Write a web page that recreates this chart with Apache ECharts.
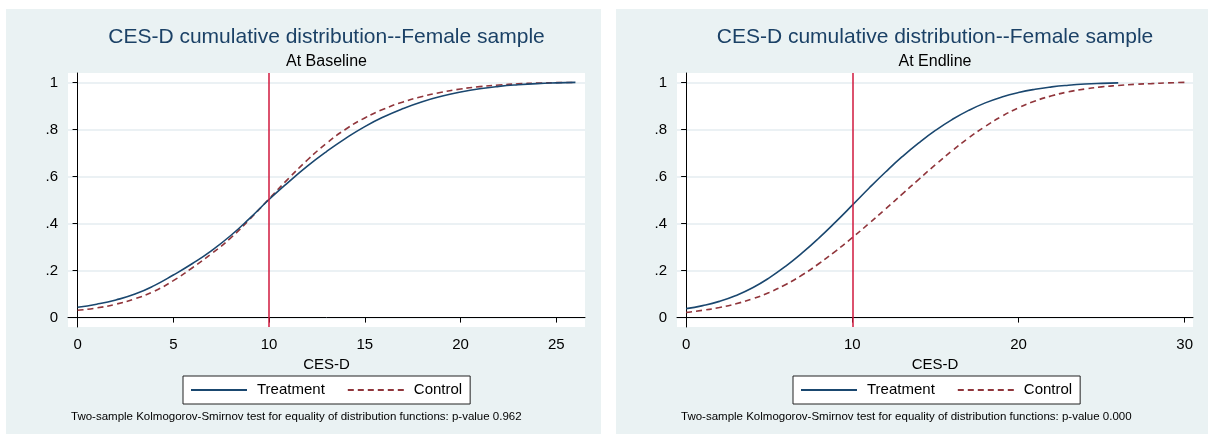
<!DOCTYPE html>
<html>
<head>
<meta charset="utf-8">
<script src="https://cdn.jsdelivr.net/npm/echarts@6/dist/echarts.min.js"></script>
<style>
  html, body { margin: 0; padding: 0; background: #ffffff; }
  body { width: 1208px; height: 434px; position: relative; overflow: hidden; }
  .panel { position: absolute; top: 9px; height: 425px; }
  #baseline { left: 6px; width: 595px; }
  #endline { left: 616px; width: 592px; }
</style>
</head>
<body>
<div id="baseline" class="panel"></div>
<div id="endline" class="panel"></div>
<script>
// values, CES-D score -> cumulative share
const baseX = [0, 1, 2, 3, 4, 5, 6, 7, 8, 9, 10, 11, 12, 13, 14, 15, 16, 17, 18, 19, 20, 21, 22, 23, 24, 25, 26]
const baseTreatment = [0.044, 0.057, 0.075, 0.1, 0.136, 0.181, 0.23, 0.285, 0.349, 0.423, 0.502, 0.575, 0.644, 0.706, 0.762, 0.812, 0.854, 0.889, 0.918, 0.941, 0.959, 0.973, 0.983, 0.99, 0.995, 0.998, 1.0]
const baseControl = [0.031, 0.041, 0.057, 0.08, 0.112, 0.157, 0.212, 0.272, 0.339, 0.419, 0.505, 0.59, 0.67, 0.741, 0.801, 0.849, 0.887, 0.917, 0.94, 0.958, 0.972, 0.982, 0.989, 0.994, 0.997, 0.999, 1.0]

const endTreatX = [0, 1, 2, 3, 4, 5, 6, 7, 8, 9, 10, 11, 12, 13, 14, 15, 16, 17, 18, 19, 20, 21, 22, 23, 24, 25, 26]
const endTreatment = [0.038, 0.051, 0.069, 0.094, 0.127, 0.169, 0.219, 0.276, 0.339, 0.407, 0.478, 0.55, 0.619, 0.684, 0.743, 0.796, 0.842, 0.881, 0.913, 0.938, 0.957, 0.971, 0.981, 0.988, 0.993, 0.996, 0.998]
const endControlX = [0, 1, 2, 3, 4, 5, 6, 7, 8, 9, 10, 11, 12, 13, 14, 15, 16, 17, 18, 19, 20, 21, 22, 23, 24, 25, 26, 27, 28, 29, 30]
const endControl = [0.022, 0.031, 0.043, 0.059, 0.08, 0.107, 0.141, 0.182, 0.23, 0.283, 0.34, 0.4, 0.462, 0.525, 0.588, 0.65, 0.709, 0.764, 0.813, 0.856, 0.892, 0.921, 0.943, 0.96, 0.972, 0.981, 0.987, 0.992, 0.995, 0.998, 1.0]

const baseTicks = [0, 5, 10, 15, 20, 25]
const endTicks = [0, 10, 20, 30]
const yTicks = [0, 0.2, 0.4, 0.6, 0.8, 1]
const cutoff = 10

const mainTitle = 'CES-D cumulative distribution--Female sample'
const xName = 'CES-D'
const seriesNames = ['Treatment', 'Control']

const navy = '#1a476f'
const maroon = '#90353b'
const bg = '#eaf2f3'

function pairs(xs, ys) {
  return xs.map((x, i) => [x, ys[i]])
}

function buildOption(cfg) {
  const centerX = cfg.gridLeft + (cfg.width - cfg.gridLeft - cfg.gridRight) / 2
  return {
    backgroundColor: bg,
    animation: false,
    textStyle: { fontFamily: 'Liberation Sans, Arial, sans-serif' },
    grid: { left: cfg.gridLeft, right: cfg.gridRight, top: 64, bottom: 107, backgroundColor: '#ffffff', show: true, borderWidth: 0 },
    xAxis: {
      type: 'value',
      min: cfg.xMin,
      max: cfg.xMax,
      name: xName,
      nameLocation: 'middle',
      nameGap: 24,
      nameTextStyle: { color: '#000', fontSize: 15 },
      axisLine: { lineStyle: { color: '#000', width: 1 } },
      axisTick: { customValues: cfg.ticks, length: 5, lineStyle: { color: '#000' } },
      axisLabel: { customValues: cfg.ticks, color: '#000', fontSize: 15, margin: 10 },
      splitLine: { show: false }
    },
    yAxis: {
      type: 'value',
      min: -0.04,
      max: 1.04,
      axisLine: { show: true, lineStyle: { color: '#000', width: 1 } },
      axisTick: { show: true, customValues: yTicks, length: 5, lineStyle: { color: '#000' } },
      axisLabel: {
        customValues: yTicks,
        color: '#000',
        fontSize: 15,
        margin: 10,
        formatter: (v) => v === 0 ? '0' : v === 1 ? '1' : String(+v.toFixed(1)).replace(/^0/, '')
      },
      splitLine: { lineStyle: { color: '#e4edf0', width: 1.5 } }
    },
    legend: {
      data: seriesNames,
      left: cfg.legendLeft,
      top: 367,
      orient: 'horizontal',
      itemWidth: 56,
      itemHeight: 14,
      itemGap: 22,
      itemStyle: { opacity: 0 },
      padding: [6, 8, 6, 7],
      backgroundColor: '#ffffff',
      borderColor: '#222',
      borderWidth: 1,
      borderRadius: 0,
      textStyle: { color: '#000', fontSize: 15, padding: [0, 0, 0, 5], lineHeight: 16 }
    },
    graphic: [
      { type: 'text', x: centerX, y: 28, style: { text: mainTitle, fill: '#1b4166', font: '21px "Liberation Sans", Arial, sans-serif', textAlign: 'center', textVerticalAlign: 'middle' } },
      { type: 'text', x: centerX, y: 53, style: { text: cfg.subtitle, fill: '#000', font: '16px "Liberation Sans", Arial, sans-serif', textAlign: 'center', textVerticalAlign: 'middle' } },
      { type: 'text', x: 65, y: 408, style: { text: cfg.note, fill: '#000', font: '11.5px "Liberation Sans", Arial, sans-serif', textAlign: 'left', textVerticalAlign: 'middle' } }
    ],
    series: [
      {
        name: seriesNames[0],
        type: 'line',
        smooth: true,
        symbol: 'none',
        data: cfg.treatment,
        lineStyle: { color: navy, width: 1.6 },
        itemStyle: { color: navy },
        markLine: {
          silent: true,
          symbol: 'none',
          label: { show: false },
          lineStyle: { color: '#d1193e', width: 1.5, type: 'solid' },
          data: [{ xAxis: cutoff }]
        },
        z: 3
      },
      {
        name: seriesNames[1],
        type: 'line',
        smooth: true,
        symbol: 'none',
        data: cfg.control,
        lineStyle: { color: maroon, width: 1.6, type: [6, 4] },
        itemStyle: { color: maroon },
        z: 2
      }
    ]
  }
}

const left = echarts.init(document.getElementById('baseline'))
left.setOption(buildOption({
  width: 595,
  gridLeft: 62,
  gridRight: 16,
  xMin: -0.5,
  xMax: 26.5,
  ticks: baseTicks,
  legendLeft: 177,
  subtitle: 'At Baseline',
  note: 'Two-sample Kolmogorov-Smirnov test for equality of distribution functions: p-value 0.962',
  treatment: pairs(baseX, baseTreatment),
  control: pairs(baseX, baseControl)
}))

const right = echarts.init(document.getElementById('endline'))
right.setOption(buildOption({
  width: 592,
  gridLeft: 61,
  gridRight: 15,
  xMin: -0.55,
  xMax: 30.5,
  ticks: endTicks,
  legendLeft: 177,
  subtitle: 'At Endline',
  note: 'Two-sample Kolmogorov-Smirnov test for equality of distribution functions: p-value 0.000',
  treatment: pairs(endTreatX, endTreatment),
  control: pairs(endControlX, endControl)
}))
</script>
</body>
</html>
